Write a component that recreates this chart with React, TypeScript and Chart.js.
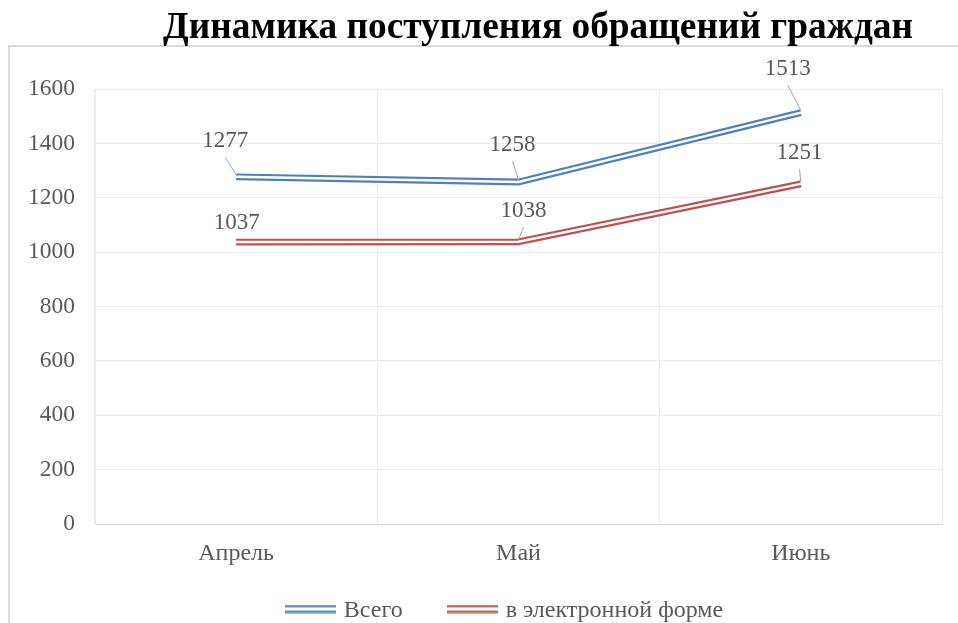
import React, { useEffect, useRef } from "react";
import { Chart, registerables } from "chart.js";

Chart.register(...registerables);

const titleText = "Динамика поступления обращений граждан";
const categories = ["Апрель", "Май", "Июнь"];
const totalValues = [1277, 1258, 1513];
const electronicValues = [1037, 1038, 1251];
const seriesNames = ["Всего", "в электронной форме"];
const yMin = 0;
const yMax = 1600;
const yStep = 200;

const BLUE = "#4F81BD";
const RED = "#C0504D";
const TEXT = "#595959";
const FONT = "'Liberation Serif', 'Times New Roman', serif";

// label placement offsets (pixels, relative to point) per dataset/point
const labelOffsets = [
  [[-11, -35.5], [-6, -37], [-13, -43.5]],
  [[0.5, -19], [5, -30.5], [-1.3, -30.6]],
];

function makeLegendSymbol(color: string) {
  const c = document.createElement("canvas");
  c.width = 51;
  c.height = 9;
  const g = c.getContext("2d")!;
  g.fillStyle = color;
  g.fillRect(0, 0.5, 51, 2.3);
  g.fillRect(0, 6.2, 51, 2.3);
  return c;
}

const decorPlugin = {
  id: "decor",
  beforeDraw(chart: any) {
    const ctx = chart.ctx;
    ctx.save();
    ctx.fillStyle = "#ffffff";
    ctx.fillRect(0, 0, chart.width, chart.height);
    ctx.strokeStyle = "#d9d9d9";
    ctx.lineWidth = 2;
    ctx.beginPath();
    ctx.moveTo(9, chart.height);
    ctx.lineTo(9, 46);
    ctx.lineTo(chart.width, 46);
    ctx.stroke();
    // title
    ctx.fillStyle = "#000000";
    ctx.font = `bold 37px ${FONT}`;
    ctx.textAlign = "center";
    ctx.textBaseline = "alphabetic";
    const w = ctx.measureText(titleText).width;
    const sx = 750 / w;
    ctx.translate(538, 38);
    ctx.scale(sx, 1);
    ctx.fillText(titleText, 0, 0);
    ctx.restore();
  },
  afterDatasetsDraw(chart: any) {
    const ctx = chart.ctx;
    ctx.save();
    // inner white stroke -> double line
    chart.data.datasets.forEach((ds: any, i: number) => {
      const meta = chart.getDatasetMeta(i);
      ctx.strokeStyle = "#ffffff";
      ctx.lineWidth = 2.4;
      ctx.lineJoin = "miter";
      ctx.beginPath();
      meta.data.forEach((p: any, j: number) => {
        if (j === 0) ctx.moveTo(p.x, p.y);
        else ctx.lineTo(p.x, p.y);
      });
      ctx.stroke();
    });
    // data labels with leader lines
    ctx.font = `23px ${FONT}`;
    ctx.textAlign = "center";
    ctx.textBaseline = "middle";
    chart.data.datasets.forEach((ds: any, i: number) => {
      const meta = chart.getDatasetMeta(i);
      meta.data.forEach((p: any, j: number) => {
        const [dx, dy] = labelOffsets[i][j];
        const lx = p.x + dx;
        const ly = p.y + dy;
        const sx = lx;
        const sy = ly + 16;
        const ex = p.x;
        const ey = p.y - 2;
        if (Math.hypot(ex - sx, ey - sy) > 8) {
          ctx.strokeStyle = "#a6a6a6";
          ctx.lineWidth = 1;
          ctx.beginPath();
          ctx.moveTo(sx, sy);
          ctx.lineTo(ex, ey);
          ctx.stroke();
        }
        ctx.fillStyle = TEXT;
        ctx.fillText(String(ds.data[j]), lx, ly);
      });
    });
    ctx.restore();
  },
  afterDraw(chart: any) {
    const ctx = chart.ctx;
    ctx.save();
    ctx.font = `24px ${FONT}`;
    ctx.textBaseline = "alphabetic";
    ctx.textAlign = "left";
    const colors = [BLUE, RED];
    const symW = 51;
    const gapSym = 8;
    const gapItem = 44;
    const widths = seriesNames.map((n) => symW + gapSym + ctx.measureText(n).width);
    const total = widths.reduce((a, b) => a + b, 0) + gapItem * (seriesNames.length - 1);
    let x = 504 - total / 2;
    const cy = 609;
    seriesNames.forEach((n, i) => {
      ctx.drawImage(makeLegendSymbol(colors[i]), x, cy - 4.5);
      ctx.fillStyle = TEXT;
      ctx.fillText(n, x + symW + gapSym, 617);
      x += widths[i] + gapItem;
    });
    ctx.restore();
  },
};

export default function App() {
  const ref = useRef<HTMLCanvasElement>(null);
  useEffect(() => {
    if (!ref.current) return;
    const chart = new Chart(ref.current, {
      type: "line",
      data: {
        labels: categories,
        datasets: [
          {
            label: seriesNames[0],
            data: totalValues,
            borderColor: BLUE,
            borderWidth: 6.8,
            pointRadius: 0,
            tension: 0,
            fill: false,
          },
          {
            label: seriesNames[1],
            data: electronicValues,
            borderColor: RED,
            borderWidth: 6.8,
            pointRadius: 0,
            tension: 0,
            fill: false,
          },
        ],
      },
      options: {
        animation: false,
        responsive: false,
        devicePixelRatio: 1,
        layout: { padding: { top: 89, right: 16, left: 0, bottom: 0 } },
        plugins: {
          legend: { display: false },
          title: { display: false },
          tooltip: { enabled: false },
        },
        scales: {
          x: {
            offset: true,
            grid: { offset: true, color: "#ebebeb", drawTicks: false },
            border: { color: "#d9d9d9" },
            ticks: { color: TEXT, font: { family: FONT, size: 24 }, padding: 15 },
            afterFit: (s: any) => {
              s.height = 99;
            },
          },
          y: {
            min: yMin,
            max: yMax,
            grid: { color: "#ebebeb", drawTicks: false },
            border: { color: "#ebebeb" },
            ticks: {
              stepSize: yStep,
              color: TEXT,
              font: { family: FONT, size: 23.5 },
              padding: 20,
              callback: (v: any) => String(v),
            },
            afterFit: (s: any) => {
              s.width = 95;
            },
          },
        },
      },
      plugins: [decorPlugin],
    });
    return () => chart.destroy();
  }, []);
  return (
    <div style={{ position: "fixed", top: 0, left: 0, width: 958, height: 623, background: "#fff" }}>
      <canvas ref={ref} width={958} height={623} style={{ display: "block" }} />
    </div>
  );
}
